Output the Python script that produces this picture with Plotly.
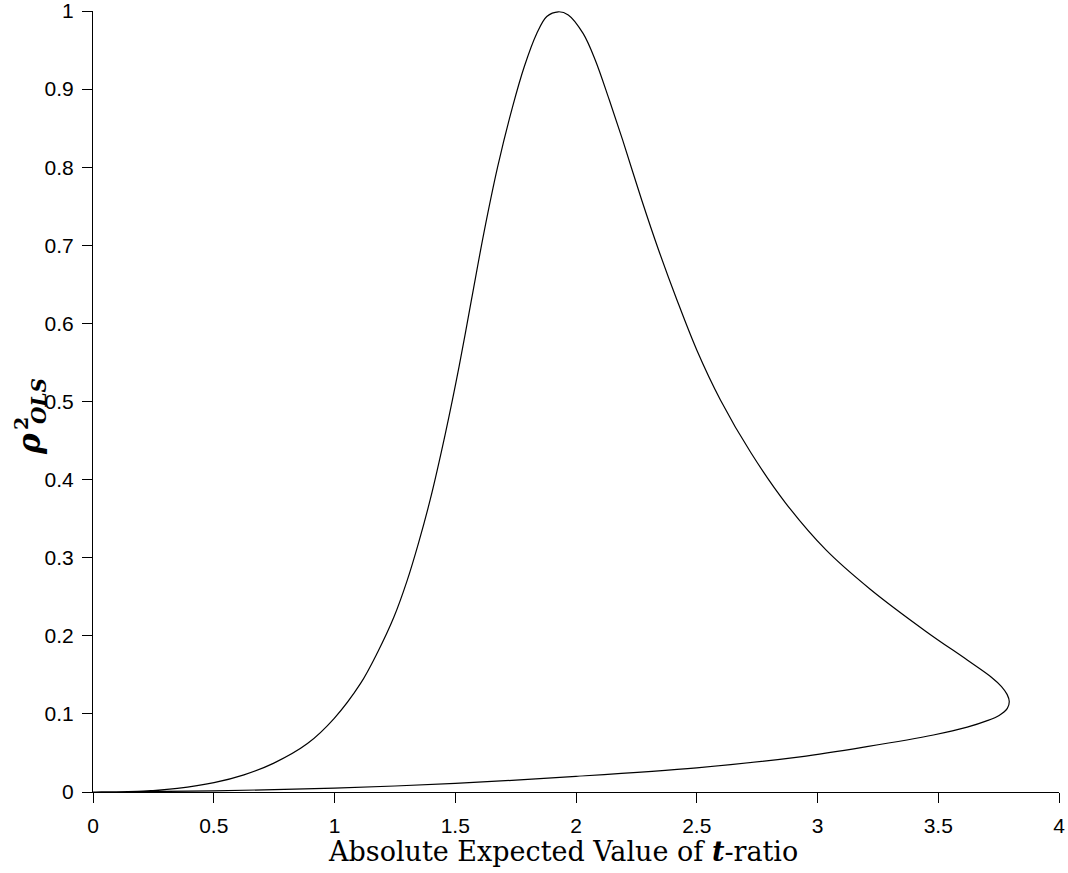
import plotly.graph_objects as go

# Curve (ordered path: origin -> peak -> nose -> origin)
curve_x = [0.0, 0.211, 0.349, 0.501, 0.625, 0.749, 0.888, 0.998, 1.108, 1.177,
           1.246, 1.300, 1.349, 1.396, 1.459, 1.516, 1.567, 1.618, 1.676, 1.737,
           1.786, 1.837, 1.879, 1.927, 1.968, 2.030, 2.080, 2.138, 2.193, 2.272,
           2.342, 2.418, 2.500, 2.598, 2.725, 2.868, 3.035, 3.217, 3.452, 3.620,
           3.720, 3.762, 3.785, 3.794, 3.786, 3.752, 3.700, 3.620, 3.480, 3.204,
           2.928, 2.500, 2.000, 1.500, 1.000, 0.500, 0.0]
curve_y = [0.0, 0.0013, 0.0047, 0.012, 0.022, 0.037, 0.062, 0.094, 0.139, 0.178,
           0.224, 0.270, 0.320, 0.374, 0.459, 0.545, 0.630, 0.715, 0.801, 0.877,
           0.929, 0.971, 0.993, 0.999, 0.995, 0.971, 0.937, 0.886, 0.835, 0.758,
           0.694, 0.630, 0.566, 0.502, 0.434, 0.370, 0.310, 0.260, 0.205, 0.169,
           0.147, 0.135, 0.125, 0.116, 0.107, 0.098, 0.091, 0.083, 0.073, 0.058,
           0.045, 0.031, 0.020, 0.011, 0.005, 0.0015, 0.0]

x_tickvals = [0, 0.5, 1, 1.5, 2, 2.5, 3, 3.5, 4]
x_ticktext = ["0", "0.5", "1", "1.5", "2", "2.5", "3", "3.5", "4"]
y_tickvals = [0, 0.1, 0.2, 0.3, 0.4, 0.5, 0.6, 0.7, 0.8, 0.9, 1]
y_ticktext = ["0", "0.1", "0.2", "0.3", "0.4", "0.5", "0.6", "0.7", "0.8", "0.9", "1"]

fig = go.Figure()
fig.add_trace(go.Scatter(x=curve_x, y=curve_y, mode="lines",
                         line=dict(color="black", width=1.2, shape="spline", smoothing=0.95),
                         showlegend=False, hoverinfo="skip"))

W, H = 1068, 873
# Target plot area in screen pixels
SL, SR, ST, SB = 93, 1059, 11, 792
L, T = SL, ST
R = W - SR
B = H - SB

tickfont = dict(family="Liberation Sans, Arial, sans-serif", size=21, color="black")

fig.update_layout(
    width=W, height=H,
    margin=dict(l=L, r=R, t=T, b=B, pad=0),
    paper_bgcolor="white", plot_bgcolor="white",
    xaxis=dict(range=[0, 4], tickvals=x_tickvals, ticktext=x_ticktext,
               ticks="outside", ticklen=10, tickwidth=1, tickcolor="black",
               showline=True, linecolor="black", linewidth=1,
               showgrid=False, zeroline=False, tickfont=tickfont,
               ticklabelstandoff=5, automargin=False, ticklabeloverflow="allow"),
    yaxis=dict(range=[0, 1], tickvals=y_tickvals, ticktext=y_ticktext,
               ticks="outside", ticklen=10, tickwidth=1, tickcolor="black",
               showline=True, linecolor="black", linewidth=1,
               showgrid=False, zeroline=False, tickfont=tickfont,
               ticklabelstandoff=4, automargin=False, ticklabeloverflow="allow"),
)

serif = "DejaVu Serif, Liberation Serif, serif"

def px_x(p):
    return (p - SL) / (SR - SL)

def px_y(p):
    return (SB - p) / (SB - ST)

fig.add_annotation(text="Absolute Expected Value of <b><i>t</i></b>-ratio",
                   xref="paper", yref="paper", x=px_x(563), y=px_y(851),
                   xanchor="center", yanchor="middle", showarrow=False,
                   font=dict(family=serif, size=27, color="black"))

# y-axis title: rho^2_OLS (rotated)
fig.add_annotation(text="<b><i>ρ</i></b>", xref="paper", yref="paper",
                   x=px_x(29), y=px_y(444), xanchor="center", yanchor="middle",
                   textangle=-90, showarrow=False,
                   font=dict(family=serif, size=31, color="black"))
fig.add_annotation(text="<b>2</b>", xref="paper", yref="paper",
                   x=px_x(21), y=px_y(424), xanchor="center", yanchor="middle",
                   textangle=-90, showarrow=False,
                   font=dict(family=serif, size=19, color="black"))
fig.add_annotation(text="<b><i>OLS</i></b>", xref="paper", yref="paper",
                   x=px_x(39), y=px_y(401), xanchor="center", yanchor="middle",
                   textangle=-90, showarrow=False,
                   font=dict(family=serif, size=20, color="black"))

fig.write_html("out.html", config={"displayModeBar": False},
               post_script="document.body.style.margin='0';document.body.style.padding='0';")
